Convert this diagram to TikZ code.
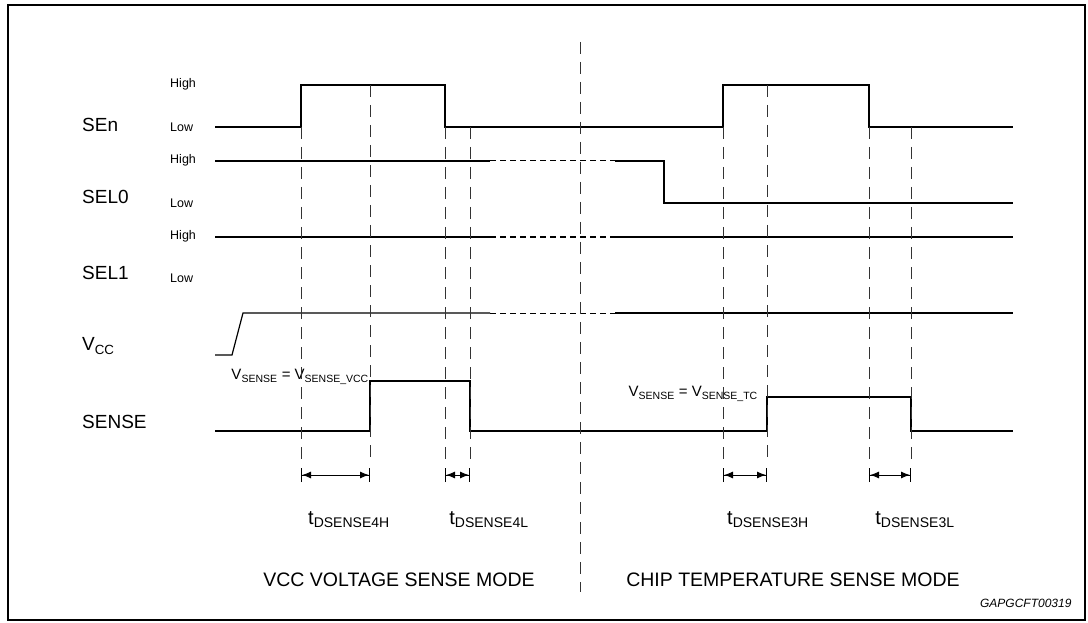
\documentclass[tikz,border=0pt]{standalone}
\usepackage{fontspec}
\setmainfont{Liberation Sans}
\usetikzlibrary{arrows.meta}

\begin{document}
\begin{tikzpicture}[x=1pt, y=-1pt,
    signal/.style={line width=1.2pt},
    guide/.style={line width=1pt, black!80, dash pattern=on 12pt off 8pt},
    held/.style={line width=1pt, dash pattern=on 6pt off 4pt},
    level/.style={anchor=west, inner sep=0pt, font=\fontsize{12.5}{14}\selectfont},
    signame/.style={anchor=west, inner sep=0pt, font=\fontsize{19}{22}\selectfont},
    delaylabel/.style={inner sep=0pt, font=\fontsize{20}{24}\selectfont},
    vlabel/.style={anchor=east, inner sep=0pt, font=\fontsize{15}{17}\selectfont},
    caption/.style={font=\fontsize{19.5}{23}\selectfont},
    delay/.style={line width=1pt,
      {Bar[width=14pt]Latex[length=9pt,width=7pt]}-{Latex[length=9pt,width=7pt]Bar[width=14pt]}},
  ]
    \useasboundingbox (0,0) rectangle (1088,623);
    \draw [line width=2pt] (8,5) rectangle (1085,620);

    % signal names and levels
    \node [signame] (sen) at (82,125) {SEn};
    \node [signame] (sel0) at (82,197) {SEL0};
    \node [signame] (sel1) at (82,273) {SEL1};
    \node [signame] (vcc) at (82,346) {V\textsubscript{CC}};
    \node [signame] (sense) at (82,422) {SENSE};
    \foreach \y/\lvl [count=\i] in {84/High, 127/Low, 160/High, 203/Low, 236/High, 278/Low} {
      \node [level] (lvl\i) at (170,\y) {\lvl};
    }

    % waveforms
    \draw [signal] (215,127) -- (301,127) -- (301,85) -- (445,85) -- (445,127)
      -- (723,127) -- (723,85) -- (869,85) -- (869,127) -- (1013,127);
    \draw [signal] (215,161) -- (490,161);
    \draw [held] (490,161) -- (615,161);
    \draw [signal] (615,161) -- (664,161) -- (664,203) -- (1013,203);
    \draw [signal] (215,237) -- (490,237);
    \draw [held] (490,237) -- (615,237);
    \draw [signal] (615,237) -- (1013,237);
    \draw [signal] (215,355) -- (232,355) -- (243,313) -- (490,313);
    \draw [held] (490,313) -- (615,313);
    \draw [signal] (615,313) -- (1013,313);
    \draw [signal] (215,431) -- (370,431) -- (370,381) -- (470,381) -- (470,431)
      -- (767,431) -- (767,397) -- (911,397) -- (911,431) -- (1013,431);

    \node [vlabel] (vsensevcc) at (369,377) {V\textsubscript{SENSE} = V\textsubscript{SENSE\_VCC}};
    \node [vlabel] (vsensetc) at (758,394) {V\textsubscript{SENSE} = V\textsubscript{SENSE\_TC}};

    % timing guides
    \foreach \x/\top in {301/127, 370/85, 445/127, 470/127, 723/127, 767/85, 869/127, 911/127} {
      \draw [guide] (\x,\top) -- (\x,462);
    }
    \draw [guide] (580,42) -- (580,592);

    \draw [delay] (301,475) -- (370,475);
    \draw [delay] (445,475) -- (470,475);
    \draw [delay] (723,475) -- (767,475);
    \draw [delay] (869,475) -- (911,475);

    \node [delaylabel] (t4h) at (349,520) {t\textsubscript{DSENSE4H}};
    \node [delaylabel] (t4l) at (489,520) {t\textsubscript{DSENSE4L}};
    \node [delaylabel] (t3h) at (768,520) {t\textsubscript{DSENSE3H}};
    \node [delaylabel] (t3l) at (915,520) {t\textsubscript{DSENSE3L}};

    % mode captions
    \node [caption] (vccmode) at (399,580) {VCC VOLTAGE SENSE MODE};
    \node [caption] (tempmode) at (793,580) {CHIP TEMPERATURE SENSE MODE};
    \node [anchor=east, font=\fontsize{12}{14}\selectfont\itshape] (figid) at (1075,603) {GAPGCFT00319};
  \end{tikzpicture}
\end{document}
